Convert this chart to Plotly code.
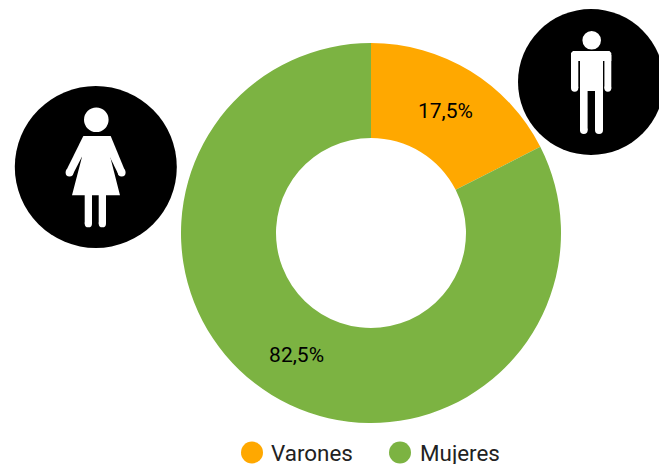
import plotly.graph_objects as go

W, H = 659, 464
categories = ["Varones", "Mujeres"]
values = [17.5, 82.5]
colors = ["#FFA800", "#7CB342"]


def px(x):
    return x / W


def py(y):
    return 1 - y / H


def circle(cx, cy, r, color):
    return dict(type="circle", xref="paper", yref="paper", layer="above",
                x0=px(cx - r), x1=px(cx + r), y0=py(cy + r), y1=py(cy - r),
                fillcolor=color, line=dict(width=0))


def poly(points, color):
    body = " L ".join(f"{px(x):.5f},{py(y):.5f}" for x, y in points)
    return dict(type="path", xref="paper", yref="paper", layer="above",
                path=f"M {body} Z", fillcolor=color, line=dict(width=0))


def capsule(x0, x1, y0, y1, color):
    # vertical bar with a rounded lower end
    r = (x1 - x0) / 2
    return [poly([(x0, y0), (x1, y0), (x1, y1 - r), (x0, y1 - r)], color),
            circle((x0 + x1) / 2, y1 - r, r, color)]


WHITE = "#FFFFFF"
shapes = []
# man icon
shapes.append(circle(591, 82, 73, "#000000"))
shapes.append(circle(591.7, 40.3, 9.3, WHITE))
shapes.append(poly([(573, 51), (609.5, 51), (611.3, 53), (611.3, 61), (571, 61), (571, 53)], WHITE))
shapes += capsule(571, 578.3, 55, 91.7, WHITE)
shapes += capsule(604.4, 611.3, 55, 91.7, WHITE)
shapes.append(poly([(580, 55), (603, 55), (603, 91), (580, 91)], WHITE))
shapes += capsule(580, 587.6, 85, 134, WHITE)
shapes += capsule(595, 603, 85, 134, WHITE)

# woman icon
shapes.append(circle(95.8, 167, 81, "#000000"))
shapes.append(circle(96.3, 119.7, 12.3, WHITE))
shapes.append(poly([(83.3, 136), (110.7, 136), (110.5, 158), (120, 195.3), (72, 195.3), (81.7, 158)], WHITE))
# arms
shapes.append(poly([(83.3, 136), (66.5, 170), (72.5, 175), (88, 145)], WHITE))
shapes.append(circle(69.5, 172.5, 3.9, WHITE))
shapes.append(poly([(110.7, 136), (124.7, 170), (118.7, 175), (104, 145)], WHITE))
shapes.append(circle(121.7, 172.5, 3.9, WHITE))
# legs
shapes += capsule(84.7, 92, 190, 227.3, WHITE)
shapes += capsule(98.7, 106, 190, 227.3, WHITE)

# legend
legend_x = [252, 400]
text_x = [269, 418]
annotations = []
for name, color, cx, tx in zip(categories, colors, legend_x, text_x):
    shapes.append(circle(cx, 452.5, 11, color))
    annotations.append(dict(xref="paper", yref="paper", x=px(tx), y=py(453),
                            xanchor="left", yanchor="middle", showarrow=False,
                            text=name, font=dict(family="Roboto", size=22.4, color="#222222")))

fig = go.Figure(go.Pie(
    labels=categories, values=values, sort=False, direction="clockwise", rotation=0,
    hole=0.5, marker=dict(colors=colors, line=dict(width=0)),
    textinfo="percent", textposition="inside", insidetextorientation="horizontal",
    textfont=dict(family="Roboto", size=21, color="#000000"),
    domain=dict(x=[px(181), px(561)], y=[py(423), py(43)]),
    showlegend=False,
))
fig.update_layout(width=W, height=H, margin=dict(l=0, r=0, t=0, b=0),
                  autosize=False, separators=",.", paper_bgcolor="#FFFFFF",
                  shapes=shapes, annotations=annotations,
                  font=dict(family="Roboto"))
fig.write_html("out.html", config=dict(displayModeBar=False),
               post_script="document.body.style.margin='0';document.body.style.overflow='hidden';")
